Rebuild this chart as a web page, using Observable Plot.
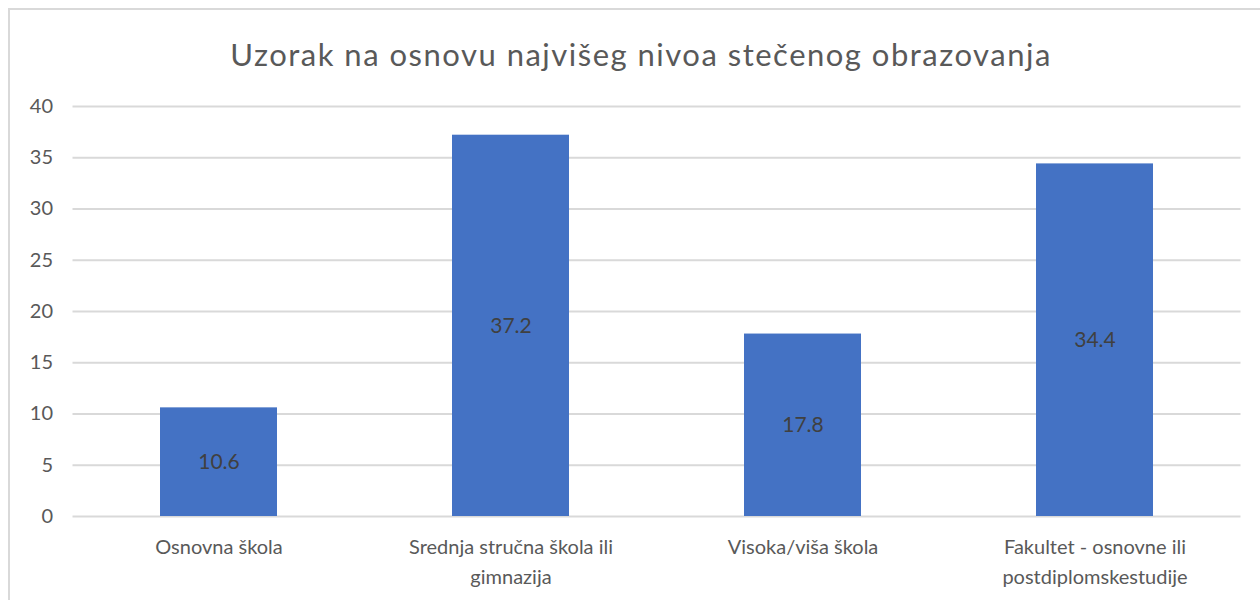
<!DOCTYPE html>
<html>
<head>
<meta charset="utf-8">
<script src="https://cdn.jsdelivr.net/npm/d3@7"></script>
<script src="https://cdn.jsdelivr.net/npm/@observablehq/plot@0.6"></script>
<style>
  html, body { margin: 0; padding: 0; background: #fff; width: 1260px; height: 600px; overflow: hidden; }
  #frame { position: absolute; left: 8px; top: 8px; width: 1260px; height: 600px; border-left: 2px solid #d9d9d9; border-top: 2px solid #d9d9d9; }
  #title { position: absolute; left: 11px; top: 34px; width: 1260px; text-align: center; font-family: Lato, "Open Sans", sans-serif; font-size: 31px; letter-spacing: 1.5px; color: #595959; line-height: 40px; white-space: nowrap; }
  #chart { position: absolute; left: 0; top: 90px; }
  #chart svg { font-family: Lato, "Open Sans", sans-serif; }
</style>
</head>
<body>
<div id="frame"></div>
<div id="title">Uzorak na osnovu najvišeg nivoa stečenog obrazovanja</div>
<div id="chart"></div>
<script>
const categories = ["Osnovna škola", "Srednja stručna škola ili gimnazija", "Visoka/viša škola", "Fakultet - osnovne ili postdiplomskestudije"];
const tickLabels = ["Osnovna škola", "Srednja stručna škola ili\ngimnazija", "Visoka/viša škola", "Fakultet - osnovne ili\npostdiplomskestudije"];
const values = [10.6, 37.2, 17.8, 34.4];
const yTicks = [0, 5, 10, 15, 20, 25, 30, 35, 40];

const data = categories.map((c, i) => ({category: c, value: values[i]}));
const labelOf = new Map(categories.map((c, i) => [c, tickLabels[i]]));

const plot = Plot.plot({
  width: 1260,
  height: 510,
  marginLeft: 72.5,
  marginRight: 19.5,
  marginTop: 16,
  marginBottom: 84,
  style: {fontFamily: "Lato, 'Open Sans', sans-serif", background: "transparent"},
  x: {domain: categories, paddingInner: 0.6, paddingOuter: 0.3, label: null},
  y: {domain: [0, 40], label: null},
  marks: [
    Plot.gridY(yTicks, {stroke: "#d9d9d9", strokeOpacity: 1, strokeWidth: 2}),
    Plot.barY(data, {x: "category", y: "value", fill: "#4472C4"}),
    Plot.text(data, {x: "category", y: d => d.value / 2, text: d => d.value.toFixed(1), fill: "#404040", fontSize: 21, style: "letter-spacing:0.5px"}),
    Plot.axisY(yTicks, {tickSize: 0, tickPadding: 20, fontSize: 20, fill: "#595959", label: null, style: "letter-spacing:1px"}),
    Plot.axisX({tickSize: 0, tickPadding: 16, fontSize: 20, fill: "#595959", lineHeight: 1.5, tickFormat: d => labelOf.get(d), label: null, style: "letter-spacing:1.1px"})
  ]
});
document.getElementById("chart").appendChild(plot);
</script>
</body>
</html>
